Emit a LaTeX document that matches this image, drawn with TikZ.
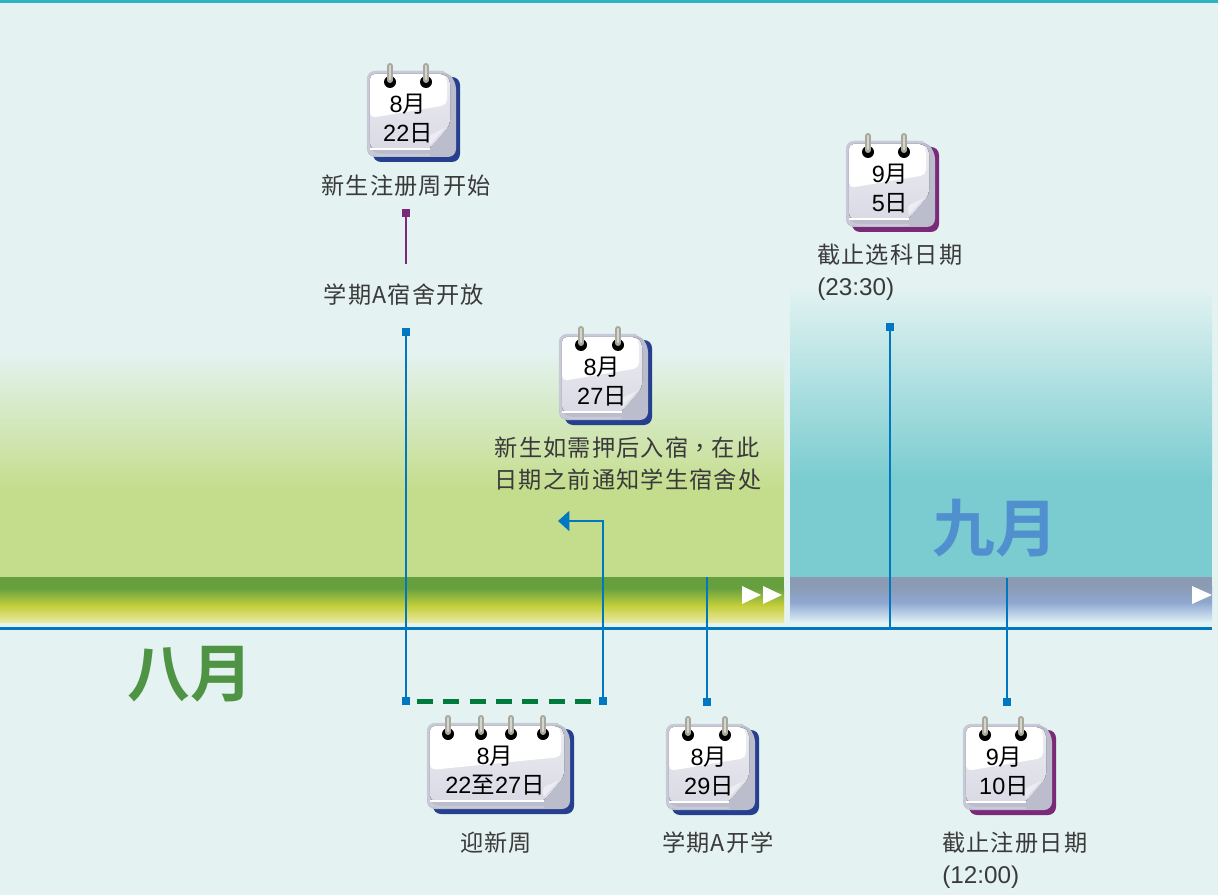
\documentclass[tikz,border=0pt]{standalone}
\usepackage{fontspec}
\setmainfont{Liberation Sans}
\newfontfamily\cjk[LetterSpace=5]{Noto Sans CJK SC}
\newfontfamily\cjktc[LetterSpace=5]{Noto Sans CJK TC}
\newfontfamily\cjkcal{Noto Sans CJK SC}
\newfontfamily\cjkbig[BoldFont={Noto Sans CJK SC Bold}]{Noto Sans CJK SC}
\usetikzlibrary{arrows.meta}
\definecolor{bg}{HTML}{E4F3F2}
\definecolor{teal}{HTML}{2FB3C0}
\definecolor{lineblue}{HTML}{0078C1}
\definecolor{leafgreen}{HTML}{C4DD8C}
\definecolor{seablue}{HTML}{7ACCD0}
\definecolor{dashgreen}{HTML}{007A3D}
\definecolor{navy}{HTML}{26408F}
\definecolor{purp}{HTML}{7A2A78}
\definecolor{gframe}{HTML}{BBBDCC}
\definecolor{gedge}{HTML}{C8CAD8}
\definecolor{gpageA}{HTML}{ECECF2}
\definecolor{gpageB}{HTML}{D9DAE4}
\definecolor{ringD}{HTML}{A8A89E}
\definecolor{ringL}{HTML}{D6D6CE}
\definecolor{txt}{HTML}{3A3A3A}
\definecolor{barA}{HTML}{66A03E}
\definecolor{barB}{HTML}{C6CF3C}
\definecolor{barC}{HTML}{E8E9A0}
\definecolor{barD}{HTML}{8B9BB3}
\definecolor{barE}{HTML}{8EA6D0}
\definecolor{barF}{HTML}{D8ECF3}
\definecolor{augc}{HTML}{4E9444}
\definecolor{sepc}{HTML}{5090CF}
\tikzset{
  x=0.75pt,y=-0.75pt,
  endsq/.style={fill=lineblue,draw=none,minimum size=6pt,inner sep=0pt,outer sep=0pt,rectangle},
  label/.style={text=txt,font=\fontsize{17.4}{20}\selectfont\cjk,inner sep=0pt,align=center},
  llabel/.style={label,anchor=west,align=left},
  timel/.style={text=txt,inner sep=0pt,anchor=west,font=\fontsize{18.2}{20}\selectfont},
  calt/.style={text=black,inner sep=0pt,font=\fontsize{17.6}{20}\selectfont},
  monthl/.style={inner sep=0pt,font=\fontsize{47}{50}\selectfont\cjkbig\bfseries},
  tri/.style={fill=white,draw=none},
  conn/.style={lineblue,line width=1.5pt},
}
% #1 name, #2 left, #3 top, #4 face width, #5 shadow colour, #6 ring offsets, #7 line 1, #8 line 2, #9 text shift
\newcommand\calendarpic[9]{%
\begin{scope}[shift={(#2,#3)}]
  \pgfmathsetmacro\calw{#4}
  \fill[#5,rounded corners=6pt] (6,6) rectangle (\calw+8,91);
  \fill[gframe,rounded corners=6pt] (0,40) -- (0,86) -- (\calw+4,86) -- (\calw+4,10) -- (\calw-6,0) -- (0,0) -- cycle;
  \draw[gedge,line width=1.8pt,rounded corners=6pt] (\calw-8,1) -- (1,1) -- (1,78) -- (5,84) -- (\calw-22,84);
  \fill[top color=gpageA,bottom color=gpageB,rounded corners=4pt] (3,3) -- (\calw-8,3) -- (\calw-2,8) -- (\calw-2,54) -- (\calw-22,78) -- (3,78) -- cycle;
  \fill[white,rounded corners=4pt] (3,3) -- (\calw-9,3) -- (\calw-5,8) -- (\calw-5,34) -- (3,47) -- cycle;
  \fill[white] (3,77) rectangle (\calw-22,79);
  \fill[gframe] (\calw-22,78) -- (\calw-2,54) -- (\calw-2,80) -- (\calw-22,80) -- cycle;
  \fill[gpageA] (\calw-22,74) .. controls (\calw-24,68) and (\calw-23,64) .. (\calw-20,63) -- (\calw-7,57) -- cycle;
  \foreach \r in {#6}{
    \fill[black] (\r,11) circle (6);
    \draw[ringD,line width=4.5pt,line cap=round] (\r,-5) -- (\r,9);
    \draw[ringL,line width=1.6pt,line cap=round] (\r,-5) -- (\r,8);
  }
  \node[calt] (#1a) at (\calw/2-2.5+#9,33) {#7};
  \node[calt] (#1b) at (\calw/2-2.5+#9,62) {#8};
\end{scope}}
\newcommand\zh[1]{{\cjkcal #1}}
\begin{document}
\begin{tikzpicture}
\useasboundingbox (0,0) rectangle (1218,895);
\fill[bg] (0,0) rectangle (1218,895);
\fill[teal] (0,0) rectangle (1218,3);
% month panels
\fill[top color=bg,bottom color=leafgreen] (0,350) rectangle (784,490);
\fill[leafgreen] (0,490) rectangle (784,577);
\fill[top color=bg,bottom color=seablue] (790,285) rectangle (1212,480);
\fill[seablue] (790,480) rectangle (1212,577);
% bars
\fill[barA] (0,577) rectangle (784,588);
\fill[top color=barA,bottom color=barB] (0,588) rectangle (784,606);
\fill[top color=barB,bottom color=barC] (0,606) rectangle (784,622);
\fill[barD] (790,577) rectangle (1212,586);
\fill[top color=barD,bottom color=barE] (790,586) rectangle (1212,602);
\fill[top color=barE,bottom color=barF] (790,602) rectangle (1212,621);
% bar arrows
\fill[tri] (742,586) -- (761,595) -- (742,604) -- cycle;
\fill[tri] (763,586) -- (782,595) -- (763,604) -- cycle;
\fill[tri] (1192,586) -- (1212,595) -- (1192,604) -- cycle;
% months
\node[monthl,text=augc] (aug) at (190,674) {八月};
\node[monthl,text=sepc] (sep) at (995,528) {九月};
% base line
\coordinate (baseL) at (0,628);
\coordinate (baseR) at (1212,628);
\draw[lineblue,line width=2.25pt] (baseL) -- (baseR);
% end markers
\node[endsq] (wkTop) at (406,332) {};
\node[endsq] (wkBot) at (406,701) {};
\node[endsq] (wkEnd) at (603,701) {};
\node[endsq] (startTerm) at (707,702) {};
\node[endsq] (selTop) at (890,327) {};
\node[endsq] (regEnd) at (1007,702) {};
\node[endsq,fill=purp] (purpTop) at (406,213) {};
\coordinate (purpBot) at (406,264);
\coordinate (selBot) at (890,628);
\coordinate (startBar) at (707,577);
\coordinate (regBar) at (1007,578);
\coordinate (arrowTip) at (558,521);
\coordinate (arrowCorner) at (603,521);
% connectors
\draw[purp,line width=1.5pt] (purpTop) -- (purpBot);
\draw[conn] (wkTop) -- (wkBot);
\draw[conn] (startBar) -- (startTerm);
\draw[conn] (selTop) -- (selBot);
\draw[conn] (regBar) -- (regEnd);
\draw[conn,-{Triangle[length=8.5pt,width=15pt]}] (wkEnd) -- (arrowCorner) -- (arrowTip);
\coordinate (dA) at (417,701);
\coordinate (dB) at (593,701);
\draw[dashgreen,line width=3.75pt,dash pattern=on 12pt off 7.75pt] (dA) -- (dB);
% calendars
\calendarpic{c1}{367}{71}{85}{navy}{23,59}{8\zh{月}}{22\zh{日}}{1}
\calendarpic{c2}{846}{141}{85}{purp}{22,58}{9\zh{月}}{5\zh{日}}{4}
\calendarpic{c3}{559}{334}{85}{navy}{22,59}{8\zh{月}}{27\zh{日}}{3}
\calendarpic{c4}{427}{723}{139}{navy}{21,54,84,116}{8\zh{月}}{22\zh{至}27\zh{日}}{1}
\calendarpic{c5}{666}{724}{85}{navy}{22,59}{8\zh{月}}{29\zh{日}}{3}
\calendarpic{c6}{963}{724}{85}{purp}{22,58}{9\zh{月}}{10\zh{日}}{1}
% labels
\node[label] (l1) at (406,186) {新生注册周开始};
\node[label] (l2) at (404,295) {学期A宿舍开放};
\node[label] (l3) at (627,448) {新生如需押后入宿{\cjktc ，}在此};
\node[label] (l4) at (628,480) {日期之前通知学生宿舍处};
\node[llabel] (l5) at (817,255) {截止选科日期};
\node[timel] (l6) at (817,289) {(23:30)};
\node[label] (l7) at (496,843) {迎新周};
\node[label] (l8) at (718,843) {学期A开学};
\node[llabel] (l9) at (942,843) {截止注册日期};
\node[timel] (l10) at (942,877) {(12:00)};
\end{tikzpicture}
\end{document}
